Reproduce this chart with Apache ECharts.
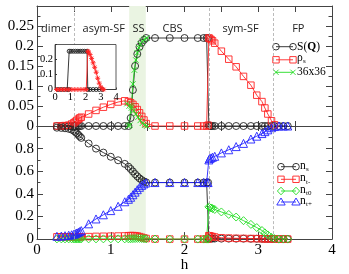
<!DOCTYPE html>
<html><head><meta charset="utf-8">
<script src="https://cdn.jsdelivr.net/npm/echarts@6/dist/echarts.min.js"></script>
<style>html,body{margin:0;padding:0;background:#fff}#c{width:349px;height:274px}</style>
</head><body><div id="c"></div>
<script>
// ---------- data ----------
const hMain = [0.27,0.33,0.38,0.43,0.47,0.50,0.52,0.54,0.56,0.58,
 0.60,0.70,0.80,0.90,1.00,1.10,1.19,1.24,1.27,1.30,
 1.33,1.36,1.39,1.42,1.45,1.48,1.60,1.80,2.00,2.18,
 2.26,2.30,2.32,2.33,2.34,2.36,2.38,2.41,2.50,2.60,
 2.70,2.80,2.90,2.98,3.05,3.09,3.13,3.18,3.22,3.28,
 3.34,3.40];
const sQ = [0,0,0,0,0,0,0,0,0,0,
 0,0,0,0,0,0,0,0,0.02,0.09,
 0.15,0.18,0.198,0.208,0.215,0.22,0.22,0.22,0.22,0.22,
 0.22,0.22,0.22,0.002,0,0,0,0,0,0,
 0,0,0,0,0,0,0,0,0,0,
 0,0];
const rhoS = [0,0,0.001,0.002,0.005,0.008,0.011,0.014,0.017,0.02,
 0.022,0.03,0.039,0.047,0.054,0.06,0.063,0.061,0.058,0.054,
 0.048,0.041,0.033,0.024,0.015,0.006,0,0,0,0,
 0,0,0.002,0.22,0.219,0.216,0.213,0.207,0.187,0.167,
 0.148,0.124,0.102,0.077,0.061,0.045,0.03,0.013,0.003,null,
 null,null];
const nS = [0.985,0.983,0.98,0.975,0.968,0.958,0.948,0.935,0.922,0.908,
 0.895,0.845,0.80,0.765,0.728,0.697,0.665,0.64,0.62,0.598,
 0.575,0.555,0.537,0.522,0.51,0.502,0.5,0.5,0.5,0.5,
 0.5,0.5,0.5,0.006,0.005,0.005,0.005,0.005,0.004,0.004,
 0.004,0.004,0.003,0.003,0.003,0.003,0.002,0.002,0.002,0.001,
 0.001,0.001];
const nTm = [0.02,0.02,0.02,0.02,0.02,0.02,0.02,0.02,0.02,0.02,
 0.02,0.022,0.024,0.025,0.026,0.027,0.028,0.03,0.031,0.031,
 0.03,0.027,0.022,0.016,0.01,0.005,0.001,0,0,0,
 0,0,0,0.03,0.028,0.025,0.022,0.018,0.012,0.009,
 0.007,0.006,0.005,0.004,0.003,0.003,0.002,0.002,0.001,0,
 0,0];
const nT0 = [0.002,0.002,0.002,0.002,0.002,0.002,0.002,0.002,0.002,0.002,
 0.002,0.002,0.002,0.002,0.002,0.002,0.002,0.002,0.003,0.004,
 0.005,0.006,0.006,0.005,0.004,0.002,0.001,0,0,0,
 0,0,0,0.285,0.28,0.275,0.27,0.262,0.24,0.218,
 0.195,0.163,0.13,0.102,0.076,0.055,0.037,0.015,0.004,0,
 0,0];
const nTp = [0.025,0.027,0.03,0.034,0.038,0.043,0.048,0.054,0.06,0.067,
 0.075,0.135,0.178,0.215,0.252,0.29,0.33,0.352,0.37,0.392,
 0.415,0.437,0.458,0.475,0.488,0.497,0.5,0.5,0.5,0.5,
 0.5,0.5,0.5,0.70,0.712,0.718,0.724,0.732,0.762,0.79,
 0.818,0.846,0.885,0.91,0.933,0.95,0.966,0.985,0.995,1.0,
 1.0,1.0];
// 36x36 lattice (SS region)
const h36S = [1.24,1.26,1.28,1.30,1.32,1.34,1.36,1.38,1.40,1.43,1.46,1.49];
const s36  = [0,0.002,0.05,0.105,0.14,0.165,0.183,0.196,0.205,0.212,0.217,0.22];
const h36R = [1.22,1.25,1.28,1.31,1.34,1.37,1.40,1.43,1.46,1.49];
const r36  = [0.056,0.05,0.045,0.038,0.03,0.022,0.014,0.007,0.002,0];
// inset
const insetHS = [0.2,0.4,0.6,0.8,0.9,0.93,1.05,1.2,1.35,1.5,1.65,1.8,1.95,2.1,2.15,2.3,2.5,2.7,2.9,3.1];
const insetS  = [0,0,0,0,0,0.255,0.255,0.255,0.255,0.255,0.255,0.255,0.255,0.255,0,0,0,0,0,0];
const insetHR = [0.1,0.3,0.5,0.7,0.9,1.1,1.3,1.5,1.7,1.9,2.05,2.15,2.2,2.3,2.4,2.5,2.6,2.7,2.8,2.9,3.0,3.1,3.2];
const insetR  = [0,0,0,0,0,0,0,0,0,0,0,0.255,0.25,0.233,0.207,0.178,0.148,0.115,0.075,0.042,0.018,0.004,0];
// phase boundaries and labels
const phaseBounds = [0.5, 2.33, 3.2];
const ssBand = [1.25, 1.475];
const phaseNames = ['dimer','asym-SF','SS','CBS','sym-SF','FP'];

// ---------- styles ----------
const SERIF = '"Liberation Serif","DejaVu Serif",serif';
const SANS = '"Open Sans","DejaVu Sans",sans-serif';
const FRAME = '#444';
const BLK = '#222', RED = '#f22', GRN = '#2d2', BLU = '#22f';
const XPATH = 'path://M0,0L10,10M10,0L0,10';
const STAR = 'path://M5,0L5,10M0,5L10,5M1.5,1.5L8.5,8.5M8.5,1.5L1.5,8.5';

function pts(hs, vs){ return hs.map((h,i)=>[h, vs[i]==null ? '-' : vs[i]]); }
function ser(name, xi, yi, data, sym, size, color, extra){
  return Object.assign({type:'line', name, xAxisIndex:xi, yAxisIndex:yi, data,
    symbol:sym, symbolSize:size, showAllSymbol:true, animation:false, z:2,
    lineStyle:{color, width:0.9},
    itemStyle:{color:'rgba(0,0,0,0)', borderColor:color, borderWidth:0.9},
    emphasis:{disabled:true}}, extra||{});
}
const markers = {
  markLine:{silent:true, symbol:'none', animation:false, label:{show:false},
    lineStyle:{color:'#aaa', type:[3,2], width:0.8},
    data: phaseBounds.map(v=>({xAxis:v}))},
  markArea:{silent:true, animation:false, itemStyle:{color:'#eaf4e2'},
    data:[[{xAxis:ssBand[0]},{xAxis:ssBand[1]}]]}
};

function xAx(grid, pos, interval, len, extra){
  return Object.assign({gridIndex:grid, type:'value', min:0, max:4, interval, position:pos,
    axisLine:{onZero:false, lineStyle:{color:FRAME, width:1}},
    axisTick:{inside:true, length:len, lineStyle:{color:FRAME}},
    axisLabel:{show:false}, splitLine:{show:false}}, extra||{});
}
function yAx(grid, pos, max, interval, labels, fmt, extra){
  return Object.assign({gridIndex:grid, type:'value', min:0, max, interval, position:pos,
    axisLine:{show:true, onZero:false, lineStyle:{color:FRAME, width:1}},
    axisTick:{inside:true, length:6, lineStyle:{color:FRAME}},
    minorTick:{show:true, splitNumber:2, length:3.5, lineStyle:{color:FRAME}},
    axisLabel: labels ? {show:true, fontFamily:SERIF, fontSize:15, color:'#000', margin:3, formatter:fmt} : {show:false},
    splitLine:{show:false}, minorSplitLine:{show:false}}, extra||{});
}

// ---------- legend / labels graphics ----------
function marker(kind, cx, cy, color){
  const st = {fill:'none', stroke:color, lineWidth:0.9};
  if(kind==='circle') return {type:'circle', shape:{cx,cy,r:3.3}, style:st};
  if(kind==='rect') return {type:'rect', shape:{x:cx-3.2,y:cy-3.2,width:6.4,height:6.4}, style:st};
  if(kind==='diamond') return {type:'polygon', shape:{points:[[cx,cy-3.8],[cx+3.6,cy],[cx,cy+3.8],[cx-3.6,cy]]}, style:st};
  if(kind==='triangle') return {type:'polygon', shape:{points:[[cx,cy-4],[cx+4.2,cy+3],[cx-4.2,cy+3]]}, style:st};
  return {type:'group', children:[
    {type:'line', shape:{x1:cx-2.6,y1:cy-2.6,x2:cx+2.6,y2:cy+2.6}, style:st},
    {type:'line', shape:{x1:cx+2.6,y1:cy-2.6,x2:cx-2.6,y2:cy+2.6}, style:st}]};
}
function txt(x, y, text, size, extra){
  return {type:'text', x, y, z:20, style:Object.assign({text, fill:'#000', fontFamily:SERIF, fontSize:size,
    align:'left', verticalAlign:'middle', textAlign:'left', textVerticalAlign:'middle'}, extra||{})};
}
function row(y, x1, x2, kind, color){
  return [{type:'line', shape:{x1,y1:y,x2,y2:y}, style:{stroke:color, lineWidth:0.9}},
    marker(kind,x1,y,color), marker(kind,x2,y,color)];
}
const g = [];
// phase labels
const phaseX = [56.3, 103.7, 138.5, 172.5, 240.5, 298.3];
phaseNames.forEach((n,i)=>g.push({type:'text', x:phaseX[i], y:29, z:20,
  style:{text:n, fill:'#222', fontFamily:SANS, fontSize:11, align:'center', verticalAlign:'middle', textAlign:'center', textVerticalAlign:'middle'}}));
// top legend
g.push(...row(46.7, 276, 293, 'circle', BLK));
g.push({type:'text', x:297, y:46.7, z:20, style:{text:'{a|S(}{b|Q}{a|)}', verticalAlign:'middle', textVerticalAlign:'middle',
  rich:{a:{fontFamily:SERIF, fontSize:11.5, fill:'#000'}, b:{fontFamily:SERIF, fontSize:11.5, fontWeight:'bold', fill:'#000'}}}});
g.push(...row(59.8, 276, 293, 'rect', RED));
g.push(txt(297, 58, 'ρ', 11.5)); g.push(txt(303, 61.5, 's', 7));
g.push(...row(72.3, 276, 293, 'cross', GRN));
g.push(txt(297, 72.3, '36x36', 11.5));
// bottom legend
const subs = ['s','t-','t0','t+'];
const kinds = ['circle','rect','diamond','triangle'];
const cols = [BLK, RED, GRN, BLU];
const rowsY = [166.7, 179.3, 191, 202];
rowsY.forEach((y,i)=>{
  g.push(...row(y, 281, 296, kinds[i], cols[i]));
  g.push(txt(300, y-1, 'n', 11.5)); g.push(txt(306, y+2.5, subs[i], 7));
});

const option = {
  animation:false, backgroundColor:'#fff',
  grid:[
    {left:37, right:17, top:6, height:120, show:false},
    {left:37, right:17, top:126, height:119, show:false},
    {left:55, top:44.5, width:61, height:45, show:true, backgroundColor:'#fff', borderColor:'#333', borderWidth:0.8, z:10}
  ],
  xAxis:[
    xAx(0,'bottom',0.5,5),
    xAx(0,'top',0.5,6),
    xAx(1,'bottom',1,7,{axisLabel:{show:true, fontFamily:SERIF, fontSize:15, color:'#000', margin:3},
      name:'h', nameLocation:'middle', nameGap:14, nameTextStyle:{fontFamily:SERIF, fontSize:15, color:'#000'}}),
    xAx(1,'top',0.5,5),
    xAx(2,'bottom',1,2,{z:11, axisLine:{onZero:false, lineStyle:{color:'#333', width:0.8}},
      axisLabel:{show:true, fontFamily:SERIF, fontSize:10.5, color:'#000', margin:2}})
  ],
  yAxis:[
    yAx(0,'left',0.3,0.05,true, v=> v>0.29 ? '' : String(+v.toFixed(2))),
    yAx(0,'right',0.3,0.05,false),
    yAx(1,'left',1,0.2,true, v=> v>0.99 ? '' : String(+v.toFixed(1))),
    yAx(1,'right',1,0.2,false),
    yAx(2,'left',0.3,0.1,false,null,{z:11, axisLine:{show:true,onZero:false,lineStyle:{color:'#333',width:0.8}},
      axisTick:{inside:true,length:2,lineStyle:{color:'#333'}}, minorTick:{show:false},
      axisLabel:{show:true, fontFamily:SERIF, fontSize:10.5, color:'#000', margin:2, formatter:v=> v>0.29 ? '' : String(+v.toFixed(1))}})
  ],
  series:[
    ser('S(Q)',0,0,pts(hMain,sQ),'circle',7,BLK,markers),
    ser('ρs',0,0,pts(hMain,rhoS),'rect',6.5,RED),
    ser('36x36',0,0,pts(h36S,s36),XPATH,5.5,GRN),
    ser('36x36 ρ',0,0,pts(h36R,r36),XPATH,5.5,GRN),
    ser('ns',2,2,pts(hMain,nS),'circle',7,BLK,markers),
    ser('nt-',2,2,pts(hMain,nTm),'rect',6.5,RED),
    ser('nt0',2,2,pts(hMain,nT0),'diamond',8,GRN),
    ser('nt+',2,2,pts(hMain,nTp),'triangle',8,BLU),
    ser('inset S',4,4,pts(insetHS,insetS),'circle',4,BLK,{z:12}),
    ser('inset ρ',4,4,pts(insetHR,insetR),STAR,5,RED,{z:12})
  ],
  graphic:g
};
const chart = echarts.init(document.getElementById('c'), null, {renderer:'canvas'});
chart.setOption(option);
</script></body></html>
